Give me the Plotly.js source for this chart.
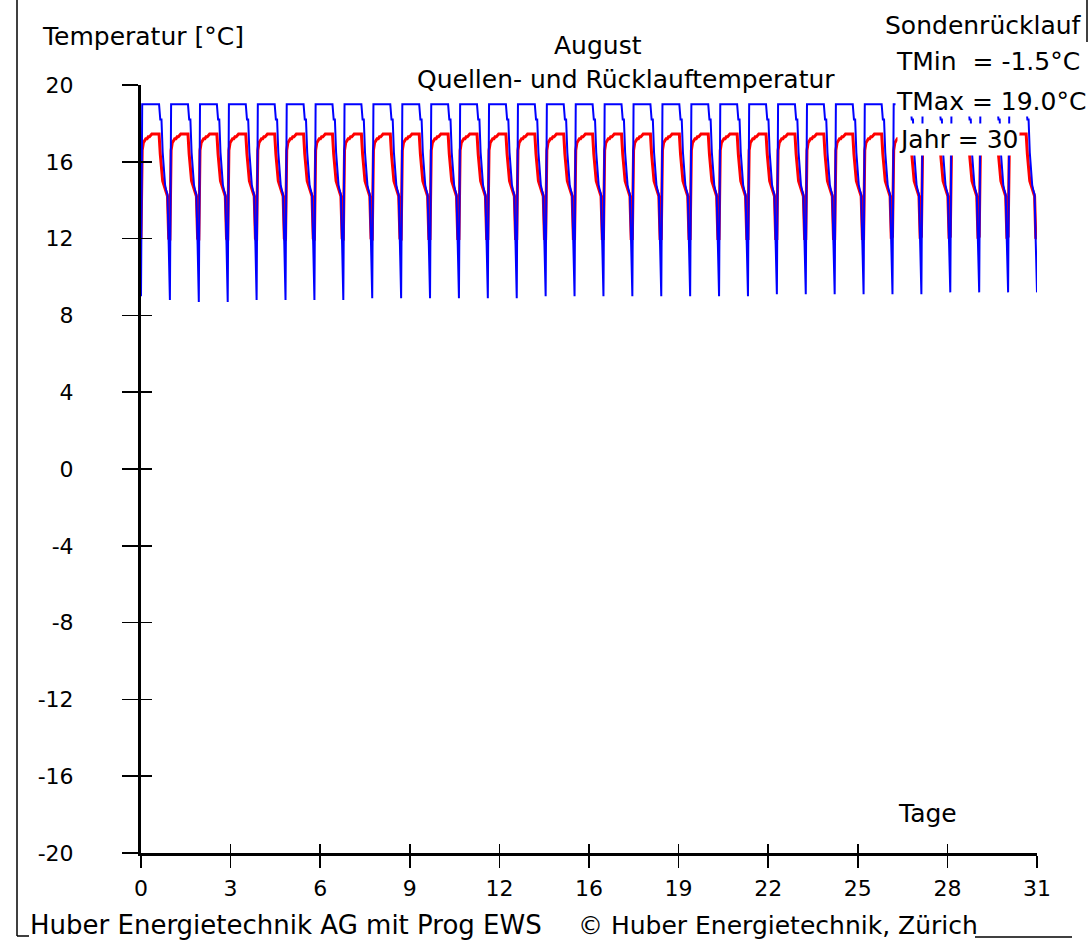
<!DOCTYPE html>
<html>
<head>
<meta charset="utf-8">
<script src="https://cdn.plot.ly/plotly-3.0.1.min.js"></script>
<style>html,body{margin:0;padding:0;background:#fff;}#chart{width:1091px;height:942px;}</style>
</head>
<body>
<div id="chart"></div>
<script>
// ---- data ----
const days = 31;
// hourly profile of one day (hours 1..23), Quellentemperatur (blue)
const blueProfile = [19.0,19.0,19.0,19.0,19.0,19.0,19.0,19.0,19.0,19.0,19.0,19.0,19.0,19.0,19.0,18.2,18.2,16.5,15.3,14.8,14.5,14.3,11.7];
// value at hour 24 (daily minimum) for each day
const blueMin = [8.8,8.7,8.7,8.8,8.8,8.8,8.8,8.9,8.9,8.9,8.9,8.9,8.9,9.0,9.0,9.0,9.0,9.0,9.0,9.0,9.0,9.1,9.1,9.1,9.1,9.1,9.1,9.2,9.2,9.2,9.2];
const blueStart = 9.0;
// hourly profile of one day (hours 1..23), Rücklauftemperatur (red)
const redProfile = [16.6,17.0,17.1,17.2,17.2,17.3,17.3,17.4,17.45,17.45,17.45,17.45,17.45,17.45,17.45,16.4,15.6,15.0,14.8,14.6,14.4,14.2,12.0];
const redMin = [11.9,11.9,11.9,11.9,11.9,11.9,11.9,11.9,11.9,12.0,12.0,12.0,12.0,12.0,12.0,12.0,12.0,12.0,12.0,12.0,12.0,12.0,12.0,12.0,12.0,12.1,12.1,12.1,12.1,12.1,12.1];
const redStart = 12.0;

const xTickVals = [0,3.1,6.2,9.3,12.4,15.5,18.6,21.7,24.8,27.9,31];
const xTickText = ["0","3","6","9","12","16","19","22","25","28","31"];
const yTickVals = [-20,-16,-12,-8,-4,0,4,8,12,16,20];
const yTickText = ["-20","-16","-12","-8","-4","0","4","8","12","16","20"];

function buildSeries(start, profile, mins){
  const xs=[0], ys=[start];
  for(let d=0; d<days; d++){
    for(let h=1; h<=24; h++){
      xs.push(d + h/24);
      ys.push(h<24 ? profile[h-1] : mins[d]);
    }
  }
  return {xs, ys};
}
const blue = buildSeries(blueStart, blueProfile, blueMin);
const red = buildSeries(redStart, redProfile, redMin);

const FONT = "DejaVu Sans, Arial, sans-serif";
const L=141, R=1037, T=85, B=853;
const px = v => (v - L)/(R - L);
const py = v => (B - v)/(B - T);

const traces = [
  {x: red.xs, y: red.ys, type:'scatter', mode:'lines', line:{color:'#ff0000', width:3}, hoverinfo:'skip'},
  {x: blue.xs, y: blue.ys, type:'scatter', mode:'lines', line:{color:'#0000ff', width:2}, hoverinfo:'skip'},
  {x: [], y: [], xaxis:'x2', yaxis:'y2', type:'scatter', mode:'lines', showlegend:false}
];

function ann(text, x, y, xanchor, extra){
  return Object.assign({text, x, y, xref:'paper', yref:'paper', xanchor, yanchor:'middle', showarrow:false,
    font:{family:FONT, size:25, color:'#000'}}, extra||{});
}

const layout = {
  width:1091, height:942,
  margin:{l:L, r:1091-R, t:T, b:942-B, pad:0},
  paper_bgcolor:'#fff', plot_bgcolor:'#fff',
  showlegend:false,
  font:{family:FONT, color:'#000'},
  xaxis:{range:[0,31], tickvals:xTickVals, ticktext:xTickText, ticks:'outside', ticklen:12, tickwidth:1.5, tickcolor:'#000',
    showline:true, linewidth:3, linecolor:'#000', showgrid:false, zeroline:false, tickfont:{family:FONT, size:22, color:'#000'}, ticklabelstandoff:2},
  yaxis:{range:[-20,20], tickvals:yTickVals, ticktext:yTickText, ticks:'outside', ticklen:16, tickwidth:1.5, tickcolor:'#000',
    showline:true, linewidth:3, linecolor:'#000', showgrid:false, zeroline:false, tickfont:{family:FONT, size:22, color:'#000'}, ticklabelstandoff:44},
  xaxis2:{range:[0,31], overlaying:'x', anchor:'y', side:'bottom', tickvals:xTickVals, ticks:'inside', ticklen:9, tickwidth:1.5, tickcolor:'#000',
    showticklabels:false, showline:false, showgrid:false, zeroline:false},
  yaxis2:{range:[-20,20], overlaying:'y', anchor:'x', side:'left', tickvals:yTickVals, ticks:'inside', ticklen:11, tickwidth:1.5, tickcolor:'#000',
    showticklabels:false, showline:false, showgrid:false, zeroline:false},
  annotations:[
    ann('Temperatur [°C]', px(40), py(36), 'left'),
    ann('August', px(598), py(45), 'center'),
    ann('Quellen- und Rücklauftemperatur', px(626), py(80), 'center'),
    ann('Sondenrücklauf', px(884), py(26), 'left', {bgcolor:'#fff', borderpad:0}),
    ann('TMin\u00a0 = -1.5°C', px(895), py(62), 'left', {bgcolor:'#fff', borderpad:0}),
    ann('TMax = 19.0°C', px(895), py(102), 'left', {bgcolor:'#fff', borderpad:0}),
    ann('Jahr = 30', px(897), py(139), 'left', {bgcolor:'#fff', borderpad:1}),
    ann('Tage', px(896), py(813), 'left'),
    ann('Huber Energietechnik AG mit Prog EWS', px(28), py(925), 'left', {font:{family:FONT, size:26, color:'#000'}}),
    ann('© Huber Energietechnik, Zürich', px(576), py(925), 'left')
  ],
  shapes:[
    {type:'line', xref:'paper', yref:'paper', x0:px(17), x1:px(17), y0:py(0), y1:py(936), line:{color:'#000', width:1.5}},
    {type:'line', xref:'paper', yref:'paper', x0:px(17), x1:px(29), y0:py(936), y1:py(936), line:{color:'#000', width:1.5}},
    {type:'line', xref:'paper', yref:'paper', x0:px(1087), x1:px(1087), y0:py(0), y1:py(42), line:{color:'#000', width:1.5}},
    {type:'line', xref:'paper', yref:'paper', x0:px(975), x1:px(1072), y0:py(937), y1:py(937), line:{color:'#000', width:1.5}}
  ]
};

Plotly.newPlot('chart', traces, layout, {staticPlot:true, displayModeBar:false});
</script>
</body>
</html>
